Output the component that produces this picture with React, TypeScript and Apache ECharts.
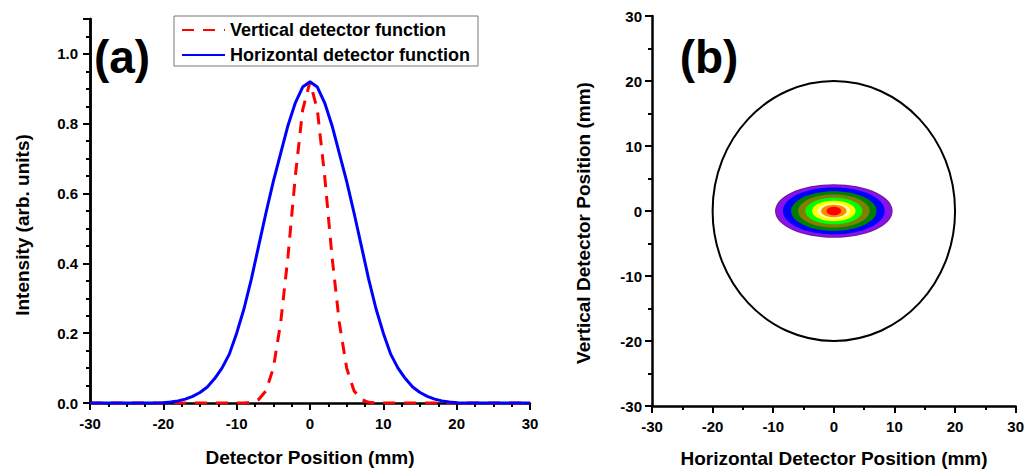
import React, { useEffect, useRef } from "react";
import * as echarts from "echarts";

// ---- Data ----
const positionsMm = [
  -30, -29, -28, -27, -26, -25, -24, -23, -22, -21, -20, -19, -18, -17, -16, -15,
  -14, -13, -12, -11, -10, -9, -8, -7, -6, -5, -4, -3, -2, -1, 0, 1, 2, 3, 4, 5, 6,
  7, 8, 9, 10, 11, 12, 13, 14, 15, 16, 17, 18, 19, 20, 21, 22, 23, 24, 25, 26, 27,
  28, 29, 30,
];
const verticalDetector = [
  0, 0, 0, 0, 0, 0, 0, 0, 0, 0, 0, 0, 0, 0, 0, 0, 0, 0, 0, 0, 0, 0, 0.002, 0.01,
  0.035, 0.1, 0.23, 0.42, 0.65, 0.84, 0.92, 0.84, 0.65, 0.42, 0.23, 0.1, 0.035, 0.01,
  0.002, 0, 0, 0, 0, 0, 0, 0, 0, 0, 0, 0, 0, 0, 0, 0, 0, 0, 0, 0, 0, 0, 0,
];
const horizontalDetector = [
  0, 0, 0, 0, 0, 0, 0, 0, 0, 0, 0.001, 0.003, 0.006, 0.011, 0.019, 0.03, 0.046,
  0.07, 0.1, 0.14, 0.2, 0.27, 0.355, 0.45, 0.545, 0.635, 0.715, 0.795, 0.86, 0.905,
  0.92, 0.905, 0.86, 0.795, 0.715, 0.635, 0.545, 0.45, 0.355, 0.27, 0.2, 0.14, 0.1,
  0.07, 0.046, 0.03, 0.019, 0.011, 0.006, 0.003, 0.001, 0, 0, 0, 0, 0, 0, 0, 0, 0, 0,
];
const seriesNames = ["Vertical detector function", "Horizontal detector function"];

const detectorCenterMm = [0, 0];
const detectorRadiusMm = 20;
const spotRadiusXMm = [9.7, 9.5, 8.4, 7.05, 5.9, 4.7, 3.6, 2.7, 2.1, 1.2];
const spotRadiusYMm = [4.12, 3.98, 3.6, 3.05, 2.55, 2.05, 1.58, 1.2, 0.97, 0.65];
const spotColors = [
  "#6b1d87", "#8a10f0", "#0000ff", "#008000", "#808000", "#00ff00", "#ffff00",
  "#ffffb0", "#ff8a00", "#ff0000",
];

const FONT = "'Liberation Sans', Arial, sans-serif";

export default function App() {
  const ref = useRef<HTMLDivElement>(null);

  useEffect(() => {
    if (!ref.current) return;
    const chart = echarts.init(ref.current, undefined, { renderer: "svg" });

    const axisLine = { show: true, onZero: false, lineStyle: { color: "#000", width: 2.5 } };
    const labelStyle = {
      color: "#000",
      fontFamily: FONT,
      fontWeight: "bold" as const,
      fontSize: 15,
    };
    const majorTick = { show: true, length: 7, lineStyle: { color: "#000", width: 2 } };

    const spotData = spotRadiusXMm.map((rx, i) => [
      detectorCenterMm[0],
      detectorCenterMm[1],
      rx,
      spotRadiusYMm[i],
    ]);

    chart.setOption({
      animation: false,
      backgroundColor: "#fff",
      grid: [
        { left: 90, top: 19, width: 440, height: 384 },
        { left: 652, top: 16, width: 364, height: 390 },
      ],
      legend: {
        data: seriesNames,
        orient: "vertical",
        left: 174,
        top: 16,
        itemWidth: 43,
        itemHeight: 14,
        itemGap: 7,
        padding: [5, 8, 2, 7],
        borderColor: "#777",
        borderWidth: 1,
        itemStyle: { color: "rgba(0,0,0,0)", borderWidth: 0, opacity: 0 },
        textStyle: { color: "#000", fontFamily: FONT, fontWeight: "bold", fontSize: 18 },
      },
      xAxis: [
        {
          type: "value",
          gridIndex: 0,
          min: -30,
          max: 30,
          interval: 10,
          position: "bottom",
          axisLine,
          axisTick: majorTick,
          minorTick: { show: true, splitNumber: 4, length: 4, lineStyle: { color: "#000", width: 2 } },
          splitLine: { show: false },
          axisLabel: { ...labelStyle, margin: 13 },
        },
        {
          type: "value",
          gridIndex: 1,
          min: -30,
          max: 30,
          interval: 10,
          position: "bottom",
          axisLine,
          axisTick: majorTick,
          minorTick: { show: true, splitNumber: 2, length: 4, lineStyle: { color: "#000", width: 2 } },
          splitLine: { show: false },
          axisLabel: { ...labelStyle, margin: 13 },
        },
      ],
      yAxis: [
        {
          type: "value",
          gridIndex: 0,
          min: 0,
          max: 1.1,
          interval: 0.05,
          position: "left",
          axisLine,
          axisTick: { show: true, length: 4, lineStyle: { color: "#000", width: 2 } },
          splitLine: { show: false },
          axisLabel: { show: false },
        },
        {
          type: "value",
          gridIndex: 0,
          min: 0,
          max: 1.1,
          interval: 0.2,
          position: "left",
          axisLine,
          axisTick: majorTick,
          splitLine: { show: false },
          axisLabel: {
            ...labelStyle,
            margin: 12,
            formatter: (v: number) => (v > 1.05 ? "" : v.toFixed(1)),
          },
        },
        {
          type: "value",
          gridIndex: 1,
          min: -30,
          max: 30,
          interval: 10,
          position: "left",
          axisLine,
          axisTick: majorTick,
          minorTick: { show: true, splitNumber: 2, length: 4, lineStyle: { color: "#000", width: 2 } },
          splitLine: { show: false },
          axisLabel: { ...labelStyle, margin: 10 },
        },
      ],
      series: [
        {
          name: seriesNames[0],
          type: "line",
          xAxisIndex: 0,
          yAxisIndex: 0,
          symbol: "none",
          data: positionsMm.map((x, i) => [x, verticalDetector[i]]),
          lineStyle: { color: "#ff0000", width: 3, type: [12, 9] },
          itemStyle: { color: "#ff0000" },
          z: 3,
        },
        {
          name: seriesNames[1],
          type: "line",
          xAxisIndex: 0,
          yAxisIndex: 0,
          symbol: "none",
          data: positionsMm.map((x, i) => [x, horizontalDetector[i]]),
          lineStyle: { color: "#0000ff", width: 3 },
          itemStyle: { color: "#0000ff" },
          z: 4,
        },
        {
          type: "custom",
          xAxisIndex: 1,
          yAxisIndex: 2,
          data: spotData,
          renderItem: (params: any, api: any) => {
            const c = api.coord([api.value(0), api.value(1)]);
            const s = api.size([api.value(2), api.value(3)]);
            return {
              type: "ellipse",
              shape: { cx: c[0], cy: c[1], rx: s[0], ry: s[1] },
              style: { fill: spotColors[params.dataIndex], stroke: "none" },
            };
          },
          z: 3,
        },
        {
          type: "custom",
          xAxisIndex: 1,
          yAxisIndex: 2,
          data: [[detectorCenterMm[0], detectorCenterMm[1], detectorRadiusMm, detectorRadiusMm]],
          renderItem: (params: any, api: any) => {
            const c = api.coord([api.value(0), api.value(1)]);
            const s = api.size([api.value(2), api.value(3)]);
            return {
              type: "ellipse",
              shape: { cx: c[0], cy: c[1], rx: s[0], ry: s[1] },
              style: { fill: "none", stroke: "#000", lineWidth: 2 },
            };
          },
          z: 4,
        },
      ],
      graphic: [
        {
          type: "text",
          x: 122,
          y: 57,
          style: {
            text: "(a)",
            fill: "#000",
            font: `bold 46px ${FONT}`,
            textAlign: "center",
            textVerticalAlign: "middle",
          },
        },
        {
          type: "text",
          x: 709,
          y: 57,
          style: {
            text: "(b)",
            fill: "#000",
            font: `bold 46px ${FONT}`,
            textAlign: "center",
            textVerticalAlign: "middle",
          },
        },
        {
          type: "text",
          x: 310,
          y: 457,
          style: {
            text: "Detector Position (mm)",
            fill: "#000",
            font: `bold 19px ${FONT}`,
            textAlign: "center",
            textVerticalAlign: "middle",
          },
        },
        {
          type: "text",
          x: 834,
          y: 458,
          style: {
            text: "Horizontal Detector Position (mm)",
            fill: "#000",
            font: `bold 19px ${FONT}`,
            textAlign: "center",
            textVerticalAlign: "middle",
          },
        },
        {
          type: "text",
          x: 22,
          y: 225,
          rotation: Math.PI / 2,
          style: {
            text: "Intensity (arb. units)",
            fill: "#000",
            font: `bold 19px ${FONT}`,
            textAlign: "center",
            textVerticalAlign: "middle",
          },
        },
        {
          type: "text",
          x: 583,
          y: 223,
          rotation: Math.PI / 2,
          style: {
            text: "Vertical Detector Position (mm)",
            fill: "#000",
            font: `bold 19px ${FONT}`,
            textAlign: "center",
            textVerticalAlign: "middle",
          },
        },
      ],
    });

    return () => chart.dispose();
  }, []);

  return (
    <div
      ref={ref}
      style={{ position: "fixed", left: 0, top: 0, width: 1027, height: 472, background: "#fff" }}
    />
  );
}
